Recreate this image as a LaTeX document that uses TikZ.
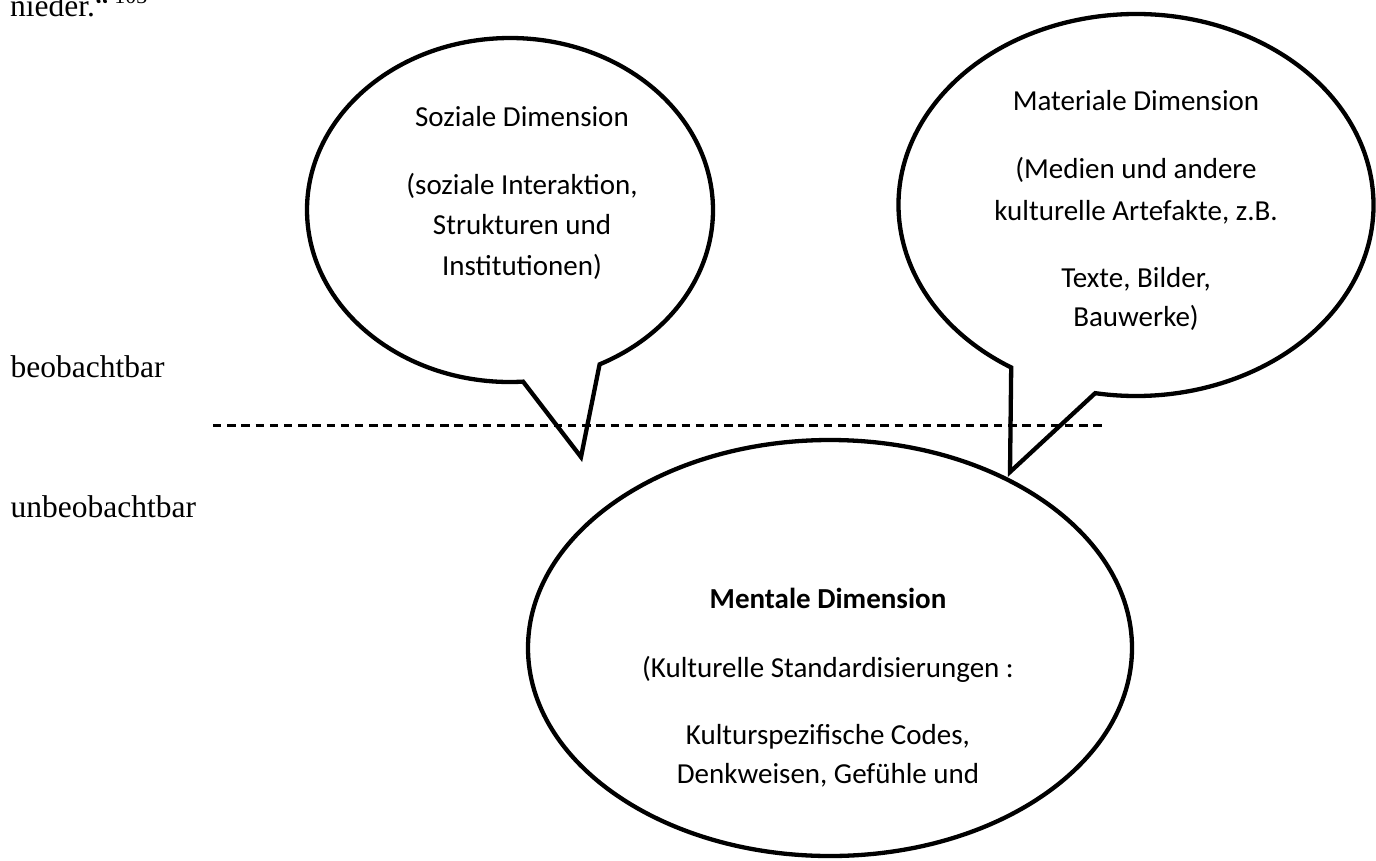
\documentclass[tikz,border=0pt]{standalone}
\usepackage{fontspec}
\setmainfont{Liberation Serif}
\newfontfamily\calibri{Carlito}
\begin{document}
\begin{tikzpicture}[x=1pt,y=-1pt,
  bubble/.style={line width=4.3pt, line join=miter, miter limit=10},
  ctext/.style={font=\calibri\fontsize{29}{35}\selectfont, anchor=base, inner sep=0pt},
  btext/.style={ctext, font=\calibri\bfseries\fontsize{29}{35}\selectfont},
  stext/.style={font=\fontsize{31.5}{38}\selectfont, anchor=base west, inner sep=0pt},
  divider/.style={line width=3pt, dash pattern=on 8.3pt off 5.9pt}]
\useasboundingbox (0,0) rectangle (1376,860);

% running text above the figure
\node[stext] (nieder) at (10,16) {nieder.“\,\raisebox{13pt}{\fontsize{22}{26}\selectfont 103}};

% side labels
\node[stext] (beob) at (10.5,377) {beobachtbar};
\node[stext] (unbeob) at (10.5,517) {unbeobachtbar};

% boundary between observable and unobservable
\coordinate (lineL) at (213,425);
\coordinate (lineR) at (1103,425);
\draw[divider] (lineL) -- (lineR);

% social dimension bubble
\coordinate (sozC) at (510,210);
\coordinate (sozTip) at (581,457);
\draw[bubble] (sozC) ++(86.3:203 and 172)
  arc[start angle=86.3, end angle=423.8, x radius=203, y radius=172]
  -- (sozTip) -- cycle;
\node[ctext] (soz1) at (522,126) {Soziale Dimension};
\node[ctext] (soz2) at (522,194) {(soziale Interaktion,};
\node[ctext] (soz3) at (522,234) {Strukturen und};
\node[ctext] (soz4) at (522,275) {Institutionen)};

% material dimension bubble
\coordinate (matC) at (1136,205);
\coordinate (matTip) at (1010,472);
\draw[bubble] (matC) ++(121.7:237.5 and 191)
  arc[start angle=121.7, end angle=459.9, x radius=237.5, y radius=191]
  -- (matTip) -- cycle;
\begin{scope}
  \clip (900,0) rectangle (1376,329);
  \node[ctext] (mat1) at (1136,110) {Materiale Dimension};
  \node[ctext] (mat2) at (1136,178) {(Medien und andere};
  \node[ctext] (mat3) at (1136,220) {kulturelle Artefakte, z.B.};
  \node[ctext] (mat4) at (1136,287) {Texte, Bilder,};
  \node[ctext] (mat5) at (1136,326) {Bauwerke)};
\end{scope}

% mental dimension ellipse
\coordinate (menC) at (830,648);
\draw[bubble] (menC) ellipse[x radius=302, y radius=208];
\node[btext] (men1) at (828,608) {Mentale Dimension};
\node[ctext] (men2) at (828,677) {(Kulturelle Standardisierungen :};
\node[ctext] (men3) at (828,744) {Kulturspezifische Codes,};
\node[ctext] (men4) at (828,783) {Denkweisen, Gefühle und};
\end{tikzpicture}
\end{document}
